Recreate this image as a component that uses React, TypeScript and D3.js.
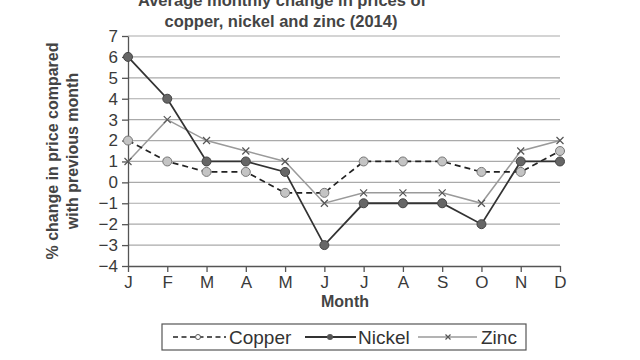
import * as React from "react";
import * as d3 from "d3";

const months = ["J", "F", "M", "A", "M", "J", "J", "A", "S", "O", "N", "D"];
const copper = [2, 1, 0.5, 0.5, -0.5, -0.5, 1, 1, 1, 0.5, 0.5, 1.5];
const nickel = [6, 4, 1, 1, 0.5, -3, -1, -1, -1, -2, 1, 1];
const zinc = [1, 3, 2, 1.5, 1, -1, -0.5, -0.5, -0.5, -1, 1.5, 2];
const yTicks = [-4, -3, -2, -1, 0, 1, 2, 3, 4, 5, 6, 7];

const font = "'Liberation Sans', Arial, sans-serif";

export default function App() {
  const ref = React.useRef<SVGSVGElement>(null);

  React.useEffect(() => {
    if (!ref.current) return;
    const svg = d3.select(ref.current);
    svg.selectAll("*").remove();

    const x = d3.scaleLinear().domain([0, 11]).range([128, 560]);
    const y = d3.scaleLinear().domain([-4, 7]).range([266, 36]);

    // title
    svg.append("text")
      .attr("x", 282).attr("y", 6)
      .attr("text-anchor", "middle")
      .attr("font-family", font).attr("font-weight", "bold")
      .attr("font-size", 16.5).attr("fill", "#444")
      .text("Average monthly change in prices of");
    svg.append("text")
      .attr("x", 281).attr("y", 27)
      .attr("text-anchor", "middle")
      .attr("font-family", font).attr("font-weight", "bold")
      .attr("font-size", 16.5).attr("fill", "#444")
      .text("copper, nickel and zinc (2014)");

    // grid
    svg.append("g").selectAll("line")
      .data(yTicks.slice(1))
      .enter().append("line")
      .attr("x1", x(0)).attr("x2", x(11))
      .attr("y1", d => y(d)).attr("y2", d => y(d))
      .attr("stroke", "#aaa").attr("stroke-width", 1.2);

    // axes
    const yAxis = svg.append("g")
      .attr("transform", `translate(${x(0)},0)`)
      .call(d3.axisLeft(y).tickValues(yTicks).tickSize(6).tickSizeOuter(0)
        .tickFormat(d => String(d).replace("-", "\u2212")));
    const xAxis = svg.append("g")
      .attr("transform", `translate(0,${y(-4)})`)
      .call(d3.axisBottom(x).tickValues(d3.range(12)).tickSize(6).tickSizeOuter(0)
        .tickFormat((_, i) => months[i]));
    [yAxis, xAxis].forEach(a => {
      a.selectAll("path, line").attr("stroke", "#555").attr("stroke-width", 1.3);
      a.selectAll("text")
        .attr("font-family", font).attr("font-size", 17).attr("fill", "#3a3a3a");
    });
    yAxis.selectAll("text").attr("x", -10);
    xAxis.selectAll("text").attr("y", 10);

    // axis titles
    svg.append("text")
      .attr("x", 345).attr("y", 307)
      .attr("text-anchor", "middle")
      .attr("font-family", font).attr("font-weight", "bold")
      .attr("font-size", 16).attr("fill", "#444")
      .text("Month");
    const yl = svg.append("text")
      .attr("transform", "translate(0,151) rotate(-90)")
      .attr("text-anchor", "middle")
      .attr("font-family", font).attr("font-weight", "bold")
      .attr("font-size", 16).attr("fill", "#444");
    yl.append("tspan").attr("x", 0).attr("y", 58).text("% change in price compared");
    yl.append("tspan").attr("x", 0).attr("y", 78).text("with previous month");

    const line = d3.line<number>().x((_, i) => x(i)).y(d => y(d));

    // zinc
    svg.append("path").attr("d", line(zinc))
      .attr("fill", "none").attr("stroke", "#9a9a9a").attr("stroke-width", 1.5);
    const drawX = (g: any, cx: number, cy: number, s: number, col: string) => {
      g.append("path")
        .attr("d", `M${cx - s},${cy - s}L${cx + s},${cy + s}M${cx - s},${cy + s}L${cx + s},${cy - s}`)
        .attr("stroke", col).attr("stroke-width", 1.2);
    };
    const zg = svg.append("g");
    zinc.forEach((d, i) => drawX(zg, x(i), y(d), 3.5, "#555"));

    // copper
    svg.append("path").attr("d", line(copper))
      .attr("fill", "none").attr("stroke", "#222").attr("stroke-width", 1.7)
      .attr("stroke-dasharray", "6,4");
    svg.append("g").selectAll("circle")
      .data(copper).enter().append("circle")
      .attr("cx", (_, i) => x(i)).attr("cy", d => y(d)).attr("r", 4.5)
      .attr("fill", "#c4c4c4").attr("stroke", "#777").attr("stroke-width", 1);

    // nickel
    svg.append("path").attr("d", line(nickel))
      .attr("fill", "none").attr("stroke", "#333").attr("stroke-width", 1.8);
    svg.append("g").selectAll("circle")
      .data(nickel).enter().append("circle")
      .attr("cx", (_, i) => x(i)).attr("cy", d => y(d)).attr("r", 4.5)
      .attr("fill", "#666").attr("stroke", "#444").attr("stroke-width", 1);

    // legend
    const lg = svg.append("g");
    lg.append("rect").attr("x", 162).attr("y", 324).attr("width", 364).attr("height", 26)
      .attr("fill", "#fff").attr("stroke", "#555").attr("stroke-width", 1.2);
    const ly = 337;
    lg.append("line").attr("x1", 173).attr("x2", 226).attr("y1", ly).attr("y2", ly)
      .attr("stroke", "#222").attr("stroke-width", 1.7).attr("stroke-dasharray", "5,3.5");
    lg.append("circle").attr("cx", 198).attr("cy", ly).attr("r", 2.5)
      .attr("fill", "#fff").attr("stroke", "#555");
    lg.append("line").attr("x1", 305).attr("x2", 356).attr("y1", ly).attr("y2", ly)
      .attr("stroke", "#333").attr("stroke-width", 1.8);
    lg.append("circle").attr("cx", 330).attr("cy", ly).attr("r", 3).attr("fill", "#555");
    lg.append("line").attr("x1", 418).attr("x2", 477).attr("y1", ly).attr("y2", ly)
      .attr("stroke", "#9a9a9a").attr("stroke-width", 1.5);
    drawX(lg, 448, ly, 2.5, "#555");
    [["Copper", 229], ["Nickel", 358], ["Zinc", 481]].forEach(([t, lx]) => {
      lg.append("text").attr("x", lx as number).attr("y", ly + 6.5)
        .attr("font-family", font).attr("font-size", 19).attr("fill", "#333")
        .text(t as string);
    });
  }, []);

  return (
    <svg ref={ref} width={640} height={360}
      style={{ position: "absolute", left: 0, top: 0, background: "#fff" }} />
  );
}
